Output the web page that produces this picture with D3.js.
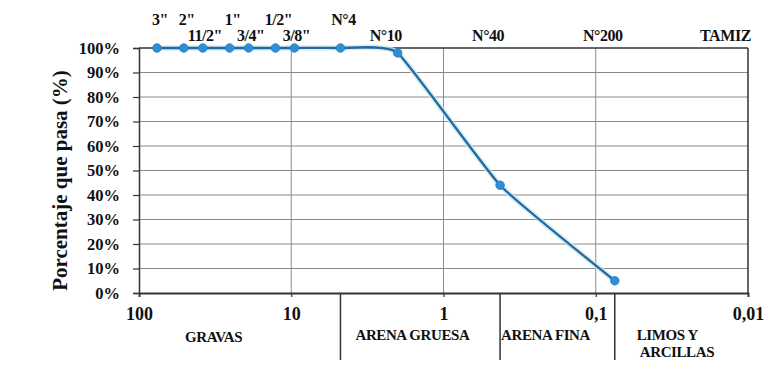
<!DOCTYPE html>
<html>
<head>
<meta charset="utf-8">
<script src="https://cdn.jsdelivr.net/npm/d3@7"></script>
<style>
  html, body { margin: 0; padding: 0; background: #fff; }
  svg { display: block; }
</style>
</head>
<body>
<svg id="chart" width="783" height="381"></svg>
<script>
// Sieve series: opening (mm) and cumulative percentage passing
const sieveLabels = ['3"', '2"', '11/2"', '1"', '3/4"', '1/2"', '3/8"', 'N°4', 'N°10', 'N°40', 'N°200'];
const sieveSizes = [76.2, 50.8, 38.1, 25.4, 19.05, 12.7, 9.525, 4.75, 2.0, 0.425, 0.075];
const percentPassing = [100, 100, 100, 100, 100, 100, 100, 100, 98, 44, 5];

// Axis ticks
const xTickValues = [100, 10, 1, 0.1, 0.01];
const xTickLabels = ['100', '10', '1', '0,1', '0,01'];
const yTickValues = [0, 10, 20, 30, 40, 50, 60, 70, 80, 90, 100];

// Soil fractions and the sieve sizes that separate them
const soilClasses = ['GRAVAS', 'ARENA GRUESA', 'ARENA FINA', 'LIMOS Y ARCILLAS'];
const classLimits = [4.75, 0.425, 0.075];

const FONT = '"Liberation Serif", "DejaVu Serif", "Times New Roman", serif';
const INK = '#111';

const svg = d3.select('#chart');
const plotLeft = 139, plotRight = 748, plotTop = 48, plotBottom = 293;

const x = d3.scaleLog().domain([100, 0.01]).range([plotLeft, plotRight]);
const y = d3.scaleLinear().domain([0, 100]).range([plotBottom, plotTop]);

function label(sel, size) {
  return sel.style('font-family', FONT).style('font-weight', 'bold')
    .style('font-size', size + 'px').attr('fill', INK);
}

// horizontal grid
svg.append('g')
  .selectAll('line')
  .data(yTickValues.filter(v => v > 0 && v < 100))
  .join('line')
  .attr('x1', plotLeft).attr('x2', plotRight)
  .attr('y1', d => y(d)).attr('y2', d => y(d))
  .attr('stroke', '#8a8a8a').attr('stroke-width', 1);

// vertical grid at each decade
svg.append('g')
  .selectAll('line')
  .data(xTickValues.slice(1, -1))
  .join('line')
  .attr('x1', d => x(d)).attr('x2', d => x(d))
  .attr('y1', plotTop).attr('y2', plotBottom)
  .attr('stroke', '#8a8a8a').attr('stroke-width', 1);

// frame: top and right borders
svg.append('line').attr('x1', plotLeft).attr('x2', plotRight).attr('y1', plotTop).attr('y2', plotTop)
  .attr('stroke', '#333').attr('stroke-width', 1.5);
svg.append('line').attr('x1', plotRight).attr('x2', plotRight).attr('y1', plotTop).attr('y2', plotBottom)
  .attr('stroke', '#333').attr('stroke-width', 1.5);

// y axis
const yAxis = d3.axisLeft(y).tickValues(yTickValues).tickFormat(d => d + '%').tickSize(6).tickPadding(13);
const gy = svg.append('g').attr('transform', `translate(${plotLeft},0)`).call(yAxis);
gy.select('.domain').attr('stroke', '#333').attr('stroke-width', 1.5);
gy.selectAll('.tick line').attr('stroke', '#333').attr('stroke-width', 1.2);
label(gy.selectAll('.tick text'), 16.5);

// x axis
const xAxis = d3.axisBottom(x).tickValues(xTickValues)
  .tickFormat((d, i) => xTickLabels[i]).tickSize(4).tickPadding(10);
const gx = svg.append('g').attr('transform', `translate(0,${plotBottom})`).call(xAxis);
gx.select('.domain').attr('stroke', '#333').attr('stroke-width', 1.8);
gx.selectAll('.tick line').attr('stroke', '#333').attr('stroke-width', 1.2);
label(gx.selectAll('.tick text'), 18);

// y axis title
label(svg.append('text'), 21)
  .attr('transform', `translate(67,${(plotTop + plotBottom) / 2 + 10}) rotate(-90)`)
  .attr('text-anchor', 'middle')
  .text('Porcentaje que pasa (%)');

// separators between soil fractions, below the axis
svg.append('g')
  .selectAll('line')
  .data(classLimits)
  .join('line')
  .attr('x1', d => x(d)).attr('x2', d => x(d))
  .attr('y1', plotBottom).attr('y2', 360)
  .attr('stroke', '#333').attr('stroke-width', 1.5);

// soil fraction labels, each within its band
const bandEdges = [100, ...classLimits, 0.01];
const bandOffsets = [0, 15, 1, 22];
soilClasses.forEach((name, i) => {
  const x0 = x(bandEdges[i]), x1 = x(bandEdges[i + 1]);
  const t = label(svg.append('text'), 15).attr('letter-spacing', '-0.4px');
  if (i === 0) {
    t.attr('x', x0 + (x1 - x0) * 0.37).attr('y', 342).attr('text-anchor', 'middle').text(name);
  } else if (i === 3) {
    const words = name.split(' ');
    t.attr('x', x0 + bandOffsets[i]).attr('y', 340).text(words[0] + ' ' + words[1]);
    label(svg.append('text'), 15).attr('letter-spacing', '-0.4px')
      .attr('x', x0 + bandOffsets[i] + 3).attr('y', 357).text(words.slice(2).join(' '));
  } else {
    t.attr('x', x0 + bandOffsets[i]).attr('y', 340).text(name);
  }
});

// sieve labels above the plot: inch sizes alternate between two rows
const upperRow = i => i <= 7 && (i === 0 || i === 1 || i === 3 || i === 5 || i === 7);
label(svg.append('g').selectAll('text').data(sieveLabels).join('text'), 16)
  .attr('x', (d, i) => x(sieveSizes[i]) + (i >= 8 ? -12 : (upperRow(i) ? 3 : 2)))
  .attr('y', (d, i) => upperRow(i) ? 25 : 41)
  .attr('text-anchor', 'middle')
  .attr('letter-spacing', '-0.5px')
  .text(d => d);

label(svg.append('text'), 16)
  .attr('x', 751).attr('y', 41)
  .attr('text-anchor', 'end')
  .attr('letter-spacing', '-0.4px')
  .text('TAMIZ');

// grading curve (smoothed through every sieve point)
const pts = sieveSizes.map((s, i) => [x(s), y(percentPassing[i])]);
const line = d3.line().curve(d3.curveCardinal.tension(0.6));
svg.append('path').attr('d', line(pts))
  .attr('fill', 'none').attr('stroke', '#c4e8f8').attr('stroke-width', 5.5).attr('opacity', 0.75);
svg.append('path').attr('d', line(pts))
  .attr('fill', 'none').attr('stroke', '#27679c').attr('stroke-width', 2.3);

svg.append('g')
  .selectAll('circle')
  .data(pts)
  .join('circle')
  .attr('cx', d => d[0]).attr('cy', d => d[1])
  .attr('r', 4.3)
  .attr('fill', '#2d8fd5')
  .attr('stroke', '#2a7dbd').attr('stroke-width', 0.8);
</script>
</body>
</html>
